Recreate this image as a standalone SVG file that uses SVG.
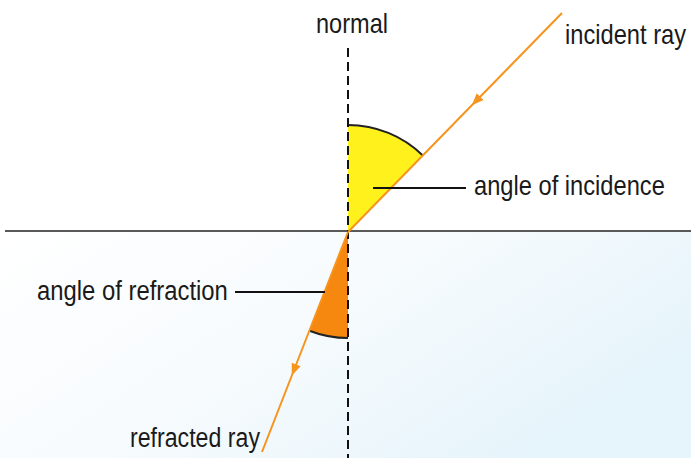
<svg xmlns="http://www.w3.org/2000/svg" width="691" height="458" viewBox="0 0 691 458">
  <style>
    .lbl { font-family: "Liberation Sans", Arial, sans-serif; font-size: 28px; fill: #1a1a1a; }
    .ray { stroke: #f7941d; stroke-width: 2; fill: none; }
    .arc { stroke: #222; stroke-width: 2; fill: none; }
    .lead { stroke: #111; stroke-width: 2.2; fill: none; }
  </style>
  <defs>
    <linearGradient id="water" x1="0" y1="0" x2="1" y2="0.5">
      <stop offset="0" stop-color="#ffffff"/>
      <stop offset="0.5" stop-color="#f7fbfd"/>
      <stop offset="1" stop-color="#e6f4fb"/>
    </linearGradient>
    <marker id="arr" viewBox="0 0 10 10" refX="5" refY="5" markerWidth="12" markerHeight="12" markerUnits="userSpaceOnUse" orient="auto">
      <path d="M0,1 L10,5 L0,9 Z" fill="#f7941d"/>
    </marker>
  </defs>
  <rect width="691" height="458" fill="#ffffff"/>
  <rect x="0" y="232" width="691" height="226" fill="url(#water)"/>

  <g id="angles">
    <g id="angle-incidence">
      <path d="M348,232 L348,125 A107,107 0 0 1 422.8,155.5 Z" fill="#fff21c"/>
      <path class="arc" d="M348,125 A107,107 0 0 1 422.8,155.5"/>
    </g>
    <g id="angle-refraction">
      <path d="M348,232 L309.4,330.7 A106,106 0 0 0 348,338 Z" fill="#f7880f"/>
      <path class="arc" d="M309.4,330.7 A106,106 0 0 0 348,338"/>
    </g>
  </g>

  <g id="boundary">
    <line x1="5" y1="231" x2="691" y2="231" stroke="#222" stroke-width="1.5"/>
  </g>

  <g id="normal">
    <line x1="348" y1="48" x2="348" y2="458" stroke="#111" stroke-width="2" stroke-dasharray="9,5"/>
    <text class="lbl" transform="translate(316,33) scale(0.841,1)">normal</text>
  </g>

  <g id="connectors">
    <path id="incident-ray" class="ray" d="M562,13 L476,101 L348,232" marker-mid="url(#arr)"/>
    <path id="refracted-ray" class="ray" d="M348,232 L294,370 L262,452" marker-mid="url(#arr)"/>
    <line class="lead" x1="373" y1="188" x2="466" y2="188"/>
    <line class="lead" x1="235" y1="292" x2="325" y2="292"/>
  </g>

  <g id="label-incident-ray">
    <text class="lbl" transform="translate(565,44) scale(0.846,1)">incident ray</text>
  </g>
  <g id="label-angle-incidence">
    <text class="lbl" transform="translate(474,195) scale(0.846,1)">angle of incidence</text>
  </g>
  <g id="label-angle-refraction">
    <text class="lbl" transform="translate(37,300) scale(0.852,1)">angle of refraction</text>
  </g>
  <g id="label-refracted-ray">
    <text class="lbl" transform="translate(130,447) scale(0.827,1)">refracted ray</text>
  </g>
</svg>
